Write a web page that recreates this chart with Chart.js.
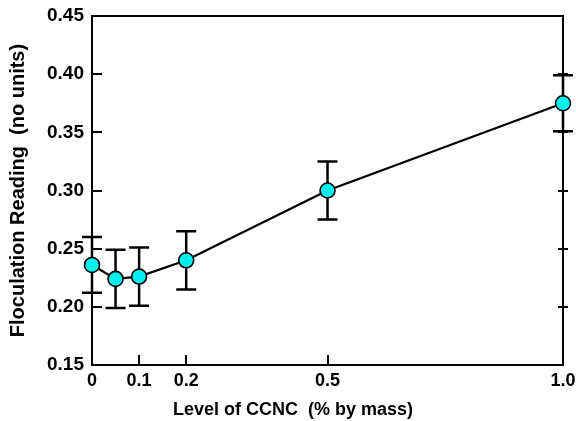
<!DOCTYPE html>
<html>
<head>
<meta charset="utf-8">
<script src="https://cdn.jsdelivr.net/npm/chart.js@4.4.1/dist/chart.umd.min.js"></script>
<style>
  html, body { margin: 0; padding: 0; background: #ffffff; }
  #wrap { width: 576px; height: 421px; }
</style>
</head>
<body>
<div id="wrap"><canvas id="chart" width="576" height="421"></canvas></div>
<script>
// CCNC level (% by mass) and mean floculation reading with its +/- error
const ccncLevels = [0, 0.05, 0.1, 0.2, 0.5, 1.0];
const readings = [0.236, 0.224, 0.226, 0.240, 0.300, 0.375];
const readingErrors = [0.024, 0.025, 0.025, 0.025, 0.025, 0.024];

const xTickValues = [0, 0.1, 0.2, 0.5, 1.0];
const xTickLabels = ['0', '0.1', '0.2', '0.5', '1.0'];
const yTickValues = [0.15, 0.20, 0.25, 0.30, 0.35, 0.40, 0.45];

const xAxisTitle = 'Level of CCNC  (% by mass)';
const yAxisTitle = 'Floculation Reading  (no units)';

const FONT_FAMILY = "'Liberation Sans', Arial, Helvetica, sans-serif";
const INK = '#000000';

// Box frame with inward ticks on left/bottom and crossing ticks on the right
const framePlugin = {
  id: 'frame',
  beforeDatasetsDraw(chart) {
    const { ctx, chartArea: a, scales: { x, y } } = chart;
    ctx.save();
    ctx.strokeStyle = INK;
    ctx.lineWidth = 2;
    ctx.lineCap = 'butt';
    ctx.strokeRect(a.left, a.top, a.right - a.left, a.bottom - a.top);
    ctx.beginPath();
    yTickValues.forEach(v => {
      const py = Math.round(y.getPixelForValue(v));
      if (py <= a.top + 1 || py >= a.bottom - 1) return;
      ctx.moveTo(a.left, py); ctx.lineTo(a.left + 10, py);
      ctx.moveTo(a.right - 5, py); ctx.lineTo(a.right + 5, py);
    });
    xTickValues.forEach(v => {
      const px = Math.round(x.getPixelForValue(v));
      if (px <= a.left + 1 || px >= a.right - 1) return;
      ctx.moveTo(px, a.bottom); ctx.lineTo(px, a.bottom - 10);
    });
    ctx.stroke();
    ctx.restore();
  },
  afterDraw(chart) {
    // x-axis title, centred on the page width below the tick labels
    const { ctx } = chart;
    ctx.save();
    ctx.fillStyle = INK;
    ctx.font = `bold 18px ${FONT_FAMILY}`;
    ctx.textAlign = 'center';
    ctx.textBaseline = 'middle';
    ctx.fillText(xAxisTitle, 293, 410);
    ctx.restore();
  }
};

// Vertical error bars with caps, drawn beneath the markers
const errorBarPlugin = {
  id: 'errorBars',
  beforeDatasetsDraw(chart) {
    const { ctx, scales: { x, y } } = chart;
    ctx.save();
    ctx.strokeStyle = INK;
    ctx.lineWidth = 2.5;
    ctx.beginPath();
    ccncLevels.forEach((lvl, i) => {
      const px = x.getPixelForValue(lvl);
      const hi = y.getPixelForValue(readings[i] + readingErrors[i]);
      const lo = y.getPixelForValue(readings[i] - readingErrors[i]);
      ctx.moveTo(px, hi); ctx.lineTo(px, lo);
      ctx.moveTo(px - 10, hi); ctx.lineTo(px + 10, hi);
      ctx.moveTo(px - 10, lo); ctx.lineTo(px + 10, lo);
    });
    ctx.stroke();
    ctx.restore();
  }
};

new Chart(document.getElementById('chart'), {
  type: 'line',
  data: {
    datasets: [{
      label: 'Floculation Reading',
      data: ccncLevels.map((lvl, i) => ({ x: lvl, y: readings[i] })),
      borderColor: INK,
      borderWidth: 2.3,
      pointRadius: 7.5,
      pointHoverRadius: 7.5,
      pointBackgroundColor: '#00F0F0',
      pointBorderColor: INK,
      pointBorderWidth: 1.6,
      tension: 0,
      clip: false
    }]
  },
  options: {
    responsive: false,
    animation: false,
    devicePixelRatio: 1,
    layout: { padding: { top: 16, right: 13, left: 0, bottom: 0 } },
    plugins: { legend: { display: false }, tooltip: { enabled: false } },
    scales: {
      x: {
        type: 'linear',
        min: 0,
        max: 1.0,
        grid: { display: false, drawTicks: false },
        border: { display: false },
        afterBuildTicks(scale) { scale.ticks = xTickValues.map(v => ({ value: v })); },
        afterFit(scale) {
          scale.height = 56;
          scale.paddingLeft = 0; scale.paddingRight = 0;
        },
        ticks: {
          color: INK,
          padding: 5,
          maxRotation: 0,
          autoSkip: false,
          font: { family: FONT_FAMILY, size: 18, weight: 'bold' },
          callback(value) {
            const idx = xTickValues.indexOf(value);
            return idx >= 0 ? xTickLabels[idx] : '';
          }
        },
        title: { display: false }
      },
      y: {
        type: 'linear',
        min: 0.15,
        max: 0.45,
        grid: { display: false, drawTicks: false },
        border: { display: false },
        afterBuildTicks(scale) { scale.ticks = yTickValues.map(v => ({ value: v })); },
        afterFit(scale) {
          scale.width = 92;
          scale.paddingTop = 0; scale.paddingBottom = 0;
        },
        ticks: {
          color: INK,
          padding: 8,
          autoSkip: false,
          font: { family: FONT_FAMILY, size: 19, weight: 'bold' },
          callback(value) { return Number(value).toFixed(2); }
        },
        title: {
          display: true,
          text: yAxisTitle,
          color: INK,
          font: { family: FONT_FAMILY, size: 20, weight: 'bold' },
          padding: { top: 6, bottom: 0 }
        }
      }
    }
  },
  plugins: [framePlugin, errorBarPlugin]
});
</script>
</body>
</html>
